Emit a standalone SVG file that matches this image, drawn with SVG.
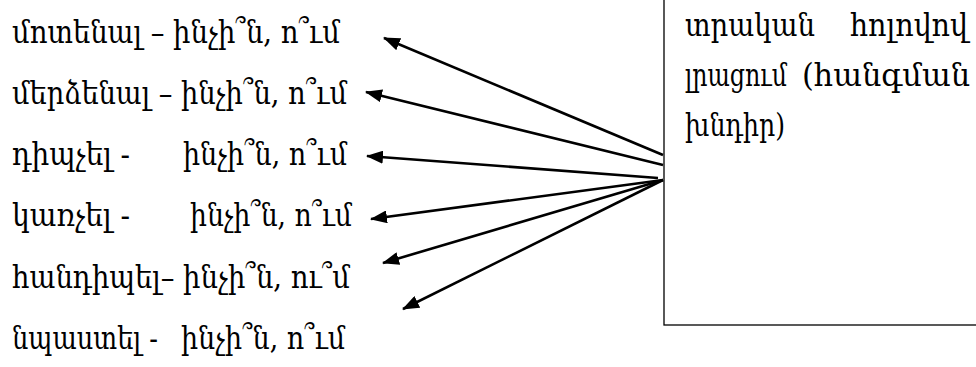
<svg xmlns="http://www.w3.org/2000/svg" width="976" height="367" viewBox="0 0 976 367">
<style>
text{font-family:"DejaVu Serif Condensed","DejaVu Serif","Noto Serif",serif;font-stretch:condensed;font-size:32px;fill:#000}
.c line{stroke:#000;stroke-width:2.6;fill:none}
.box{fill:#fff;stroke:#000;stroke-width:1.3}
</style>
<defs>
<marker id="ah" viewBox="0 0 17 13" refX="16" refY="6.5" markerWidth="17" markerHeight="13" orient="auto" markerUnits="userSpaceOnUse">
<path d="M0,0 L17,6.5 L0,13 z" fill="#000"/>
</marker>
</defs>
<rect width="976" height="367" fill="#fff"/>
<g id="box">
<rect class="box" x="664" y="-5" width="320" height="330"/>
<text x="685" y="36" textLength="130" lengthAdjust="spacingAndGlyphs">տրական</text>
<text x="850" y="36" textLength="118" lengthAdjust="spacingAndGlyphs">հոլովով</text>
<text x="685" y="86" textLength="102" lengthAdjust="spacingAndGlyphs">լրացում</text>
<text x="802" y="86" textLength="168" lengthAdjust="spacingAndGlyphs">(հանգման</text>
<text x="685" y="136" textLength="100" lengthAdjust="spacingAndGlyphs">խնդիր)</text>
</g>
<g id="item1"><text x="12" y="43" textLength="328" lengthAdjust="spacingAndGlyphs">մոտենալ – ինչի՞ն, ո՞ւմ</text></g>
<g id="item2"><text x="12" y="104" textLength="335" lengthAdjust="spacingAndGlyphs">մերձենալ – ինչի՞ն, ո՞ւմ</text></g>
<g id="item3"><text x="12" y="165" textLength="118" lengthAdjust="spacingAndGlyphs">դիպչել -</text><text x="183" y="165" textLength="164" lengthAdjust="spacingAndGlyphs">ինչի՞ն, ո՞ւմ</text></g>
<g id="item4"><text x="12" y="226" textLength="118" lengthAdjust="spacingAndGlyphs">կառչել -</text><text x="190" y="226" textLength="162" lengthAdjust="spacingAndGlyphs">ինչի՞ն, ո՞ւմ</text></g>
<g id="item5"><text x="12" y="288" textLength="338" lengthAdjust="spacingAndGlyphs">հանդիպել– ինչի՞ն, ու՞մ</text></g>
<g id="item6"><text x="12" y="349" textLength="146" lengthAdjust="spacingAndGlyphs">նպաստել -</text><text x="181" y="349" textLength="164" lengthAdjust="spacingAndGlyphs">ինչի՞ն, ո՞ւմ</text></g>
<g class="c" id="connectors">
<line x1="663" y1="155" x2="384" y2="38" marker-end="url(#ah)"/>
<line x1="663" y1="165" x2="366" y2="92" marker-end="url(#ah)"/>
<line x1="658" y1="178" x2="367" y2="156" marker-end="url(#ah)"/>
<line x1="663" y1="180" x2="371" y2="219" marker-end="url(#ah)"/>
<line x1="663" y1="180" x2="383" y2="263" marker-end="url(#ah)"/>
<line x1="663" y1="180" x2="403" y2="309" marker-end="url(#ah)"/>
</g>
</svg>
